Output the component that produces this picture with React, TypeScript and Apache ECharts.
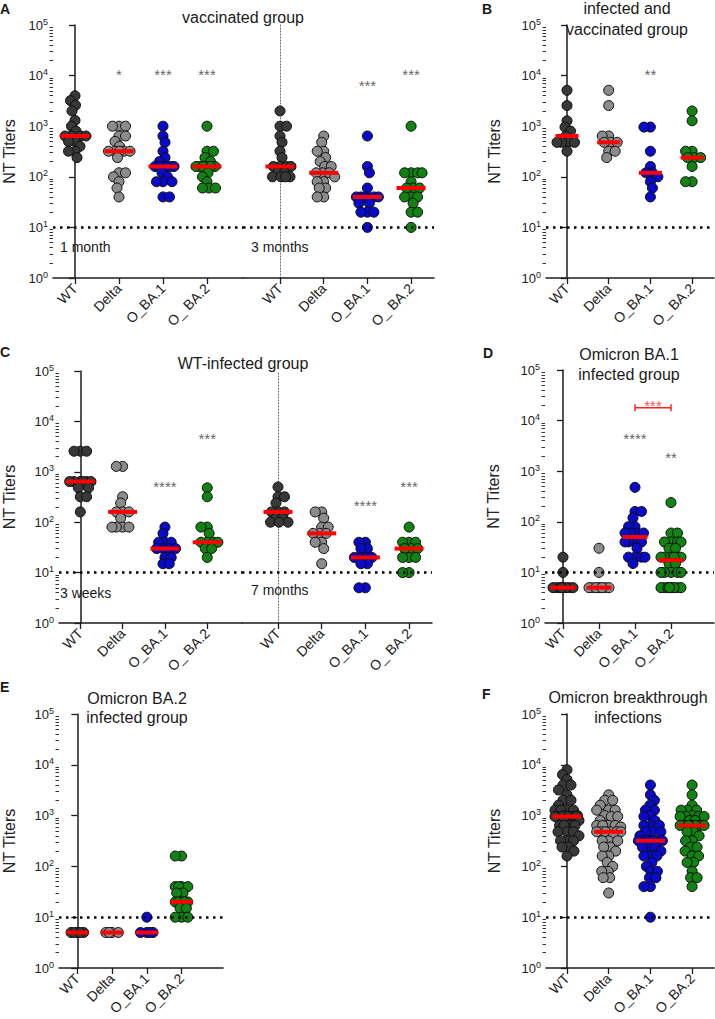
import React, { useEffect, useRef } from 'react';
import * as echarts from 'echarts';

const FONT = '"Liberation Sans", Arial, Helvetica, sans-serif';

const catsSp = ['WT', 'Delta', 'O_BA.1', 'O_ BA.2'];
const catsNs = ['WT', 'Delta', 'O_BA.1', 'O_BA.2'];
const groupColors = ['#383838', '#8c8c8c', '#0a0acb', '#128212'];

// A – vaccinated group, 1 month
const vac1mWT = [4000, 3200, 2600, 2000, 1300, 1000, 800, 640, 640, 640, 640, 500, 500, 400, 320, 320, 240];
const vac1mDelta = [1000, 1000, 1000, 640, 640, 500, 400, 320, 320, 320, 320, 320, 240, 120, 120, 100, 80, 60, 40];
const vac1mBA1 = [1000, 640, 480, 320, 240, 200, 160, 160, 160, 160, 160, 160, 120, 100, 80, 80, 80, 40, 40];
const vac1mBA2 = [1000, 320, 320, 240, 200, 160, 160, 160, 160, 160, 160, 120, 100, 80, 60, 60, 60];
const vac1mSig = ['', '*', '***', '***'];
const vac1mSigAt = [0, 10500, 10500, 10500];
// A – vaccinated group, 3 months
const vac3mWT = [2000, 1000, 1000, 640, 480, 320, 240, 160, 160, 160, 160, 120, 120, 100, 100, 100, 100];
const vac3mDelta = [640, 480, 320, 320, 240, 200, 160, 160, 120, 120, 120, 100, 80, 80, 60, 60, 40, 40];
const vac3mBA1 = [640, 160, 120, 60, 40, 40, 40, 40, 40, 40, 30, 30, 20, 20, 20, 10];
const vac3mBA2 = [1000, 120, 120, 120, 120, 80, 60, 60, 60, 40, 40, 40, 30, 20, 20, 10];
const vac3mSig = ['', '', '***', '***'];
const vac3mSigAt = [0, 0, 6500, 10500];
// B – infected and vaccinated
const infVacWT = [5120, 2560, 1280, 960, 800, 640, 480, 480, 480, 480, 320];
const infVacDelta = [5120, 2560, 640, 640, 480, 480, 480, 320, 320, 240];
const infVacBA1 = [960, 960, 320, 160, 120, 120, 100, 80, 60, 40];
const infVacBA2 = [2000, 1280, 320, 320, 240, 240, 240, 160, 80, 80];
const infVacSig = ['', '', '**', ''];
const infVacSigAt = [0, 0, 10500, 0];
// C – WT-infected, 3 weeks
const wt3wWT = [2560, 2560, 2560, 640, 640, 640, 640, 640, 640, 480, 480, 320, 320, 160];
const wt3wDelta = [1280, 1280, 320, 240, 160, 160, 160, 120, 80, 80, 80, 80];
const wt3wBA1 = [80, 60, 40, 40, 40, 30, 30, 30, 30, 20, 20, 15, 15];
const wt3wBA2 = [480, 320, 80, 80, 60, 40, 40, 40, 40, 30, 30, 20];
const wt3wSig = ['', '', '****', '***'];
const wt3wSigAt = [0, 0, 510, 4650];
// C – WT-infected, 7 months
const wt7mWT = [500, 320, 320, 240, 160, 160, 160, 120, 120, 100, 100, 100];
const wt7mDelta = [160, 160, 120, 80, 80, 60, 60, 60, 40, 40, 30, 15];
const wt7mBA1 = [40, 40, 30, 30, 20, 20, 20, 20, 15, 15, 5, 5];
const wt7mBA2 = [80, 40, 40, 40, 30, 30, 30, 20, 20, 20, 10, 10];
const wt7mSig = ['', '', '****', '***'];
const wt7mSigAt = [0, 0, 215, 510];
// D – Omicron BA.1 infected
const ba1WT = [20, 10, 5, 5, 5, 5, 5, 5, 5, 5];
const ba1Delta = [30, 10, 5, 5, 5, 5, 5, 5, 5];
const ba1BA1 = [480, 160, 160, 120, 80, 80, 60, 60, 60, 60, 40, 40, 40, 40, 30, 20, 20, 20, 20, 15];
const ba1BA2 = [240, 60, 60, 40, 40, 40, 40, 30, 30, 20, 20, 20, 20, 20, 20, 15, 15, 10, 10, 10, 10, 10, 5, 5, 5, 5, 5, 5, 5, 5];
const ba1Sig = ['', '', '****', '**'];
const ba1SigAt = [0, 0, 4350, 1900];
const ba1PairSig = '***';
const ba1PairAt = 18000;
// E – Omicron BA.2 infected
const ba2WT = [5, 5, 5, 5, 5];
const ba2Delta = [5, 5, 5, 5];
const ba2BA1 = [10, 5, 5, 5, 5];
const ba2BA2 = [160, 160, 40, 40, 40, 40, 30, 30, 20, 20, 20, 20, 20, 15, 15, 10, 10, 10];
// F – Omicron breakthrough infections
const btWT = [8000, 6400, 5120, 4000, 4000, 3200, 2560, 2000, 2000, 1600, 1280, 1280, 1280, 1280, 1000, 1000, 960, 960, 960, 960, 960, 960, 960, 800, 800, 640, 640, 640, 640, 480, 480, 480, 400, 320, 320, 320, 240, 240, 200, 160];
const btDelta = [2560, 2000, 2000, 1600, 1280, 1280, 1280, 1000, 960, 960, 800, 640, 640, 640, 640, 600, 480, 480, 480, 480, 480, 480, 400, 320, 320, 320, 240, 240, 200, 160, 160, 120, 100, 80, 80, 60, 60, 30];
const btBA1 = [4000, 2560, 2000, 1600, 1280, 1280, 1000, 960, 800, 640, 640, 640, 480, 480, 480, 400, 320, 320, 320, 320, 320, 320, 320, 240, 240, 240, 200, 160, 160, 160, 120, 100, 80, 80, 60, 60, 40, 40, 10];
const btBA2 = [4000, 2560, 1600, 1280, 1280, 1280, 1000, 960, 960, 960, 960, 800, 800, 640, 640, 640, 640, 640, 640, 640, 480, 480, 400, 320, 320, 240, 240, 200, 160, 160, 120, 120, 80, 60, 60, 40];

const threshold = 10;
const majorTicks = [1, 10, 100, 1000, 10000, 100000];
const minorMultipliers = [2, 3, 4, 5, 6, 7, 8, 9];

function median(a: number[]) {
  const s = [...a].sort((x, y) => x - y);
  const n = s.length;
  return n % 2 ? s[(n - 1) / 2] : (s[n / 2 - 1] + s[n / 2]) / 2;
}

// beeswarm offsets in pixels (layout only)
function swarm(values: number[], decade: number, minDist: number, maxHalf: number) {
  const placed: { x: number; y: number }[] = [];
  return values.map((v, idx) => {
    const y = Math.log10(v) * decade;
    let best = 0;
    let bestScore = -1;
    let done = false;
    for (let k = 0; k <= maxHalf && !done; k += 0.5) {
      const cands = k === 0 ? [0] : idx % 2 ? [-k, k] : [k, -k];
      for (const s of cands) {
        let md = Infinity;
        for (const p of placed) {
          const d = Math.hypot(p.x - s, p.y - y);
          if (d < md) md = d;
        }
        if (md >= minDist) { best = s; done = true; break; }
        if (md > bestScore + 0.01) { bestScore = md; best = s; }
      }
    }
    placed.push({ x: best, y });
    return best;
  });
}

type Panel = {
  left: number; top: number; width: number; height: number;
  first: number; spacing: number; showY: boolean; nameGap: number;
  cats: string[]; groups: number[][]; sig?: string[]; sigAt?: number[];
  medW: number; maxHalf: number;
};

const panels: Panel[] = [
  { left: 53, top: 25, width: 190, height: 253, first: 75, spacing: 44, showY: true, nameGap: 36, cats: catsSp, groups: [vac1mWT, vac1mDelta, vac1mBA1, vac1mBA2], sig: vac1mSig, sigAt: vac1mSigAt, medW: 29, maxHalf: 11 },
  { left: 243, top: 25, width: 191, height: 253, first: 280, spacing: 43.7, showY: false, nameGap: 0, cats: catsSp, groups: [vac3mWT, vac3mDelta, vac3mBA1, vac3mBA2], sig: vac3mSig, sigAt: vac3mSigAt, medW: 29, maxHalf: 11 },
  { left: 546, top: 25, width: 168, height: 253, first: 567, spacing: 41.7, showY: true, nameGap: 44, cats: catsSp, groups: [infVacWT, infVacDelta, infVacBA1, infVacBA2], sig: infVacSig, sigAt: infVacSigAt, medW: 23, maxHalf: 10 },
  { left: 53, top: 371, width: 189, height: 252, first: 75, spacing: 43.7, showY: true, nameGap: 42, cats: catsSp, groups: [wt3wWT, wt3wDelta, wt3wBA1, wt3wBA2], sig: wt3wSig, sigAt: wt3wSigAt, medW: 29, maxHalf: 11 },
  { left: 242, top: 371, width: 190, height: 252, first: 278, spacing: 43.7, showY: false, nameGap: 0, cats: catsSp, groups: [wt7mWT, wt7mDelta, wt7mBA1, wt7mBA2], sig: wt7mSig, sigAt: wt7mSigAt, medW: 29, maxHalf: 11 },
  { left: 545, top: 370, width: 169, height: 253, first: 563, spacing: 36, showY: true, nameGap: 44, cats: catsNs, groups: [ba1WT, ba1Delta, ba1BA1, ba1BA2], sig: ba1Sig, sigAt: ba1SigAt, medW: 25, maxHalf: 10 },
  { left: 53, top: 714, width: 170, height: 254, first: 72, spacing: 36, showY: true, nameGap: 42, cats: catsNs, groups: [ba2WT, ba2Delta, ba2BA1, ba2BA2], medW: 22, maxHalf: 7 },
  { left: 546, top: 714, width: 168, height: 254, first: 567, spacing: 41.7, showY: true, nameGap: 44, cats: catsNs, groups: [btWT, btDelta, btBA1, btBA2], medW: 29, maxHalf: 12 },
];

const axisColor = '#1c1c1c';

function buildOption() {
  const grid: any[] = [];
  const xAxis: any[] = [];
  const yAxis: any[] = [];
  const minorAxes: any[] = [];
  const series: any[] = [];
  const minorVals: number[] = [];
  majorTicks.slice(0, -1).forEach((b) => minorMultipliers.forEach((m) => minorVals.push(m * b)));

  panels.forEach((p, gi) => {
    const decade = p.height / 5;
    const xMin = -(p.first - p.left) / p.spacing;
    const xMax = xMin + p.width / p.spacing;
    grid.push({ left: p.left, top: p.top, width: p.width, height: p.height, containLabel: false });
    xAxis.push({
      type: 'value', gridIndex: gi, min: xMin, max: xMax,
      splitLine: { show: false },
      axisLine: { show: true, onZero: false, lineStyle: { color: axisColor, width: 1.5 } },
      axisTick: { show: true, customValues: [0, 1, 2, 3], length: 6, lineStyle: { color: axisColor, width: 1.3 } },
      axisLabel: {
        show: true, customValues: [0, 1, 2, 3], rotate: 45, margin: 8,
        formatter: (v: number) => p.cats[Math.round(v)] ?? '',
        fontSize: 14, color: '#222', fontFamily: FONT,
      },
    });
    if (p.showY) {
      yAxis.push({
        type: 'log', logBase: 10, gridIndex: gi, min: 1, max: 100000,
        name: 'NT Titers', nameLocation: 'middle', nameGap: p.nameGap,
        nameTextStyle: { fontSize: 16, color: '#222', fontFamily: FONT },
        splitLine: { show: false },
        axisLine: { show: true, lineStyle: { color: axisColor, width: 1.5 } },
        axisTick: { show: true, customValues: majorTicks, length: 6, lineStyle: { color: axisColor, width: 1.3 } },
        minorTick: { show: false },
        axisLabel: {
          margin: 5, color: '#222', fontFamily: FONT, customValues: majorTicks,
          formatter: (v: number) => `{b|10}{s|${Math.round(Math.log10(v))}}`,
          rich: {
            b: { fontSize: 13, fontFamily: FONT, color: '#222' },
            s: { fontSize: 9, fontFamily: FONT, color: '#222', padding: [0, 0, 7, 0] },
          },
        },
      });
      minorAxes.push({
        type: 'log', logBase: 10, gridIndex: gi, min: 1, max: 100000, position: 'left',
        splitLine: { show: false }, axisLine: { show: false }, axisLabel: { show: false },
        axisTick: { show: true, customValues: minorVals, length: 3.5, lineStyle: { color: axisColor, width: 0.9 } },
      });
    } else {
      yAxis.push({
        type: 'log', logBase: 10, gridIndex: gi, min: 1, max: 100000,
        splitLine: { show: false },
        axisLine: { show: true, lineStyle: { color: '#666', width: 1, type: [1, 2] } },
        axisTick: { show: false }, axisLabel: { show: false }, minorTick: { show: false },
      });
    }

    p.groups.forEach((vals, ci) => {
      const sorted = [...vals].sort((a, b) => b - a);
      const offs = swarm(sorted, decade, 6.5, p.maxHalf);
      series.push({
        type: 'scatter', xAxisIndex: gi, yAxisIndex: gi, silent: true, z: 2,
        symbol: 'circle', symbolSize: 10,
        itemStyle: { color: groupColors[ci], borderColor: '#0d0d0d', borderWidth: 1, opacity: 1 },
        data: sorted.map((v, k) => [ci + offs[k] / p.spacing, v]),
      });
    });

    series.push({
      type: 'scatter', xAxisIndex: gi, yAxisIndex: gi, silent: true, z: 4,
      symbol: 'rect', symbolSize: [p.medW, 4],
      itemStyle: { color: '#ff0000', opacity: 1 },
      data: p.groups.map((g, ci) => [ci, median(g)]),
      markLine: {
        silent: true, symbol: 'none', label: { show: false },
        lineStyle: { color: '#000', type: [2.5, 4.5], width: 2.6, cap: 'butt', opacity: 1 },
        data: [{ yAxis: threshold }],
      },
    });

    if (p.sig && p.sigAt) {
      series.push({
        type: 'scatter', xAxisIndex: gi, yAxisIndex: gi, silent: true, z: 5,
        symbolSize: 1, itemStyle: { color: 'rgba(0,0,0,0)' },
        label: { show: true, position: 'inside', formatter: '{b}', fontSize: 15, color: '#3a3a3a', fontFamily: FONT },
        data: p.sig.map((s, ci) => ({ name: s, value: [ci, p.sigAt![ci]] })).filter((d) => d.name),
      });
    }
  });

  // D: BA.1 vs BA.2 comparison bracket
  series.push({
    type: 'line', xAxisIndex: 5, yAxisIndex: 5, silent: true, z: 5,
    symbol: 'rect', symbolSize: [1.5, 7], showSymbol: true,
    lineStyle: { color: '#ff2020', width: 1.5 }, itemStyle: { color: '#ff2020' },
    data: [[2, ba1PairAt], [3, ba1PairAt]],
  });
  series.push({
    type: 'scatter', xAxisIndex: 5, yAxisIndex: 5, silent: true, z: 6,
    symbolSize: 1, itemStyle: { color: 'rgba(0,0,0,0)' },
    label: { show: true, position: 'inside', formatter: '{b}', fontSize: 15, color: '#ff2020', fontFamily: FONT },
    data: [{ name: ba1PairSig, value: [2.5, ba1PairAt * 1.12] }],
  });

  const txt = (text: string, x: number, y: number, size: number, align = 'center', bold = false, lh = 0) => ({
    type: 'text', x, y, silent: true,
    style: {
      text, fill: '#1a1a1a', fontSize: size, fontFamily: FONT, fontWeight: bold ? 'bold' : 'normal',
      align, textAlign: align, verticalAlign: 'middle', textVerticalAlign: 'middle',
      lineHeight: lh || undefined,
    },
  });

  const graphic = [
    txt('A', 0, 9, 14, 'left', true),
    txt('B', 482, 9, 14, 'left', true),
    txt('C', 0, 352, 14, 'left', true),
    txt('D', 483, 353, 14, 'left', true),
    txt('E', 0, 687, 14, 'left', true),
    txt('F', 482, 694, 14, 'left', true),
    txt('vaccinated group', 243, 17, 16),
    txt('infected and\nvaccinated group', 627, 18.5, 16, 'center', false, 21),
    txt('WT-infected group', 243, 363, 16),
    txt('Omicron BA.1\ninfected group', 629, 364, 16, 'center', false, 20),
    txt('Omicron BA.2\ninfected group', 137, 707.5, 16, 'center', false, 19),
    txt('Omicron breakthrough\ninfections', 628, 707, 16, 'center', false, 20),
    txt('1 month', 60, 247, 14, 'left'),
    txt('3 months', 251, 247, 14, 'left'),
    txt('3 weeks', 60, 593, 14, 'left'),
    txt('7 months', 251, 590, 14, 'left'),
  ];

  return {
    animation: false,
    backgroundColor: '#ffffff',
    textStyle: { fontFamily: FONT },
    grid, xAxis, yAxis: [...yAxis, ...minorAxes], series, graphic,
  };
}

export default function App() {
  const ref = useRef<HTMLDivElement>(null);
  useEffect(() => {
    if (!ref.current) return;
    const chart = echarts.init(ref.current, undefined, { renderer: 'svg' });
    chart.setOption(buildOption() as any);
    return () => chart.dispose();
  }, []);
  return (
    <div
      ref={ref}
      style={{ position: 'fixed', left: 0, top: 0, width: 715, height: 1019, background: '#fff' }}
    />
  );
}
